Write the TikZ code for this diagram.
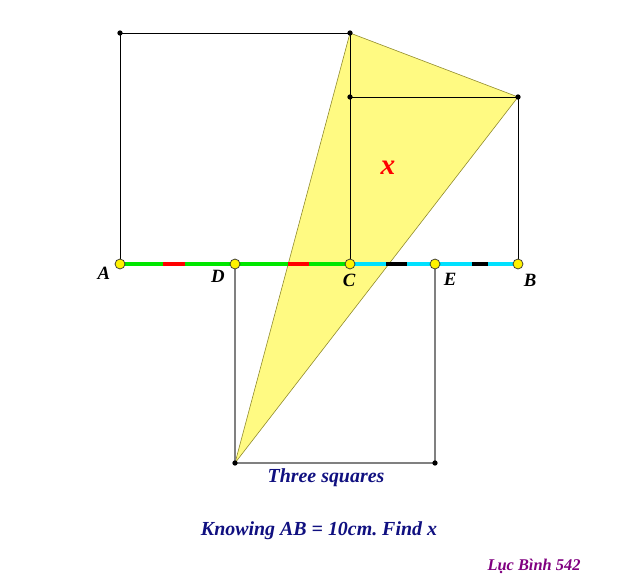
\documentclass[tikz,border=0pt]{standalone}
\usepackage{fontspec}
\setmainfont{Liberation Serif}
\usepackage{xcolor}
\usepackage{tikz}
\frenchspacing
\definecolor{navyblue}{RGB}{16,16,128}
\definecolor{tripurple}{RGB}{128,0,128}
\definecolor{segreen}{RGB}{0,230,0}
\definecolor{secyan}{RGB}{0,225,255}
\definecolor{triyellow}{RGB}{255,250,130}
\tikzset{
  dot/.style={circle,fill=black,inner sep=0pt,minimum size=4.5pt},
  ptlabel/.style={font=\bfseries\itshape\fontsize{16}{16}\selectfont},
  knot/.style={circle,draw=black!80,fill=yellow,inner sep=0pt,minimum size=8.5pt,line width=0.6pt},
  caption/.style={text=navyblue,font=\bfseries\itshape\fontsize{17}{17}\selectfont}
}
\begin{document}
\begin{tikzpicture}[x=0.03cm,y=-0.03cm]
    \useasboundingbox (0,0) rectangle (642,585);
    % points on AB
    \coordinate (A) at (120,264);
    \coordinate (D) at (235,264);
    \coordinate (C) at (350,264);
    \coordinate (E) at (435,264);
    \coordinate (B) at (518,264);
    % square corners
    \coordinate (P) at (120,33);
    \coordinate (Q) at (350,33);
    \coordinate (R) at (350,97);
    \coordinate (S) at (518,97);
    \coordinate (T) at (235,463);
    \coordinate (U) at (435,463);
    % triangle
    \fill[triyellow] (Q) -- (S) -- (T) -- cycle;
    \draw[olive!70!gray,line width=0.5pt] (Q) -- (S) -- (T) -- cycle;
    % squares
    \draw[black,line width=0.75pt] (A) -- (P) -- (Q) -- (C);
    \draw[black,line width=0.75pt] (R) -- (S) -- (B);
    \draw[gray,line width=1pt] (D) -- (T) -- (U) -- (E);
    % the base
    \draw[segreen,line width=3.5pt] (A) -- (C);
    \draw[secyan,line width=3.5pt] (C) -- (B);
    \draw[red,line width=3.5pt] (163,264) -- (185,264);
    \draw[red,line width=3.5pt] (288,264) -- (309,264);
    \draw[black,line width=3.5pt] (386,264) -- (407,264);
    \draw[black,line width=3.5pt] (472,264) -- (488,264);
    \foreach \p in {P,Q,R,S,T,U}
      \node[dot] at (\p) {};
    \foreach \p in {A,D,C,E,B}
      \node[knot] (k\p) at (\p) {};
    \node[ptlabel] (lA) at (104,273) {A};
    \node[ptlabel] (lD) at (218,276) {D};
    \node[ptlabel] (lC) at (349,280) {C};
    \node[ptlabel] (lE) at (450,279) {E};
    \node[ptlabel] (lB) at (530,280) {B};
    \node[text=red,font=\bfseries\itshape\fontsize{25}{25}\selectfont] (x) at (388,168) {x};
    \node[caption] (three) at (326,478) {Three squares};
    \node[caption] (know) at (319,531) {Knowing AB = 10cm. Find x};
    \node[text=tripurple,font=\bfseries\itshape\fontsize{14}{14}\selectfont] (sig) at (534,566) {Lục Bình 542};
\end{tikzpicture}
\end{document}
